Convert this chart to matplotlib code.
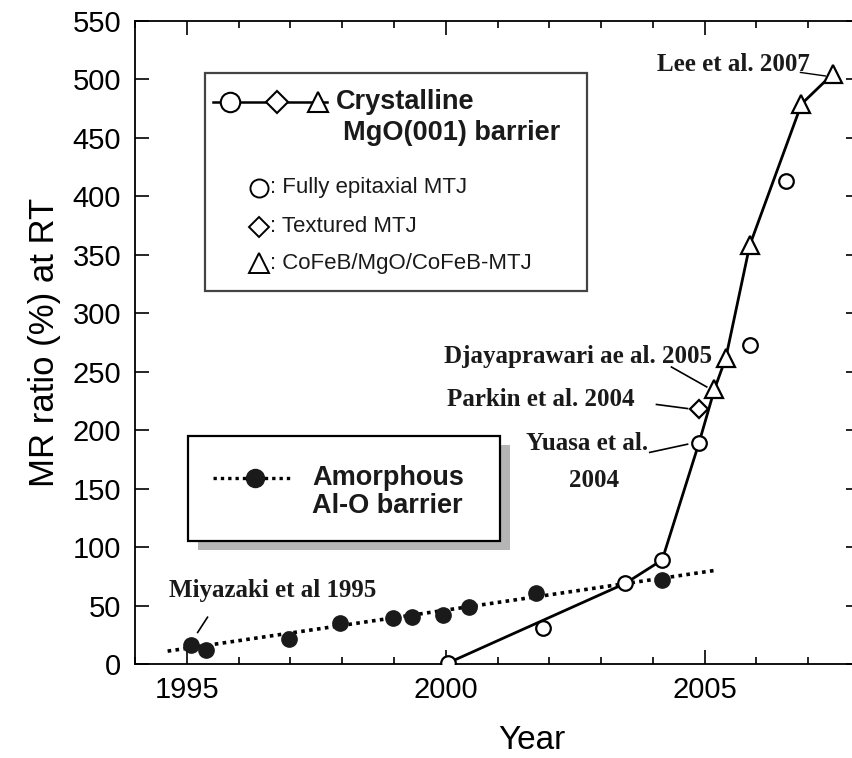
import matplotlib
matplotlib.use("Agg")
import matplotlib.pyplot as plt
from matplotlib.patches import Rectangle
from matplotlib.lines import Line2D
from matplotlib.ticker import MultipleLocator, FixedLocator

# ---------------- data ----------------
# Amorphous Al-O barrier (filled circles)
alo_year = [1995.08, 1995.38, 1996.97, 1997.96, 1998.98, 1999.35, 1999.94, 2000.45, 2001.75, 2004.18]
alo_mr = [16, 12, 21, 35, 39, 40, 42, 49, 61, 72]
# dotted trend line for Al-O
alo_trend_year = [1994.63, 2005.19]
alo_trend_mr = [11, 80]

# Crystalline MgO(001): fully epitaxial MTJ (open circles)
epi_year = [2000.05, 2001.88, 2003.47, 2004.18, 2004.89, 2005.87, 2006.57]
epi_mr = [1, 31, 69, 89, 189, 273, 413]
# textured MTJ (open diamond)
tex_year = [2004.89]
tex_mr = [218]
# CoFeB/MgO/CoFeB MTJ (open triangles)
cfb_year = [2005.19, 2005.41, 2005.87, 2006.87, 2007.48]
cfb_mr = [235, 262, 358, 479, 505]
# solid guide line through the MgO records
mgo_line_year = [2000.05, 2003.47, 2004.18, 2004.89, 2005.19, 2005.41, 2005.87, 2006.87, 2007.48]
mgo_line_mr = [1, 69, 89, 189, 235, 262, 358, 479, 505]

x_major = [1995, 2000, 2005]
y_ticks = list(range(0, 551, 50))

W, H = 852, 758
fig = plt.figure(figsize=(W / 100, H / 100), dpi=100)
ax = fig.add_axes([135 / W, 1 - 664 / H, (860 - 135) / W, (664 - 21) / H])

ax.set_xlim(1994, 2008)
ax.set_ylim(0, 550)

ax.plot(alo_trend_year, alo_trend_mr, color="black", lw=2.6, ls=(0, (1, 1.2)), zorder=2)
ax.plot(alo_year, alo_mr, "o", color="black", ms=11, mfc="#1a1a1a", mec="#1a1a1a", zorder=3)

ax.plot(mgo_line_year, mgo_line_mr, "-", color="black", lw=2.0, zorder=2)
ax.plot(epi_year, epi_mr, "o", ms=10.5, mfc="white", mec="black", mew=1.6, zorder=4)
ax.plot(tex_year, tex_mr, "D", ms=9.5, mfc="white", mec="black", mew=1.6, zorder=4)
ax.plot(cfb_year, cfb_mr, "^", ms=13, mfc="white", mec="black", mew=1.6, zorder=4)

# ticks
ax.xaxis.set_major_locator(FixedLocator(x_major))
ax.xaxis.set_minor_locator(MultipleLocator(1))
ax.yaxis.set_major_locator(FixedLocator(y_ticks))
ax.tick_params(which="both", direction="in", top=True, right=True, width=1.2)
ax.tick_params(which="major", length=10)
ax.tick_params(which="minor", length=5)
ax.tick_params(axis="x", which="major", labelsize=21, pad=9)
ax.tick_params(axis="y", which="major", labelsize=21, pad=10)
for lab in ax.get_xticklabels() + ax.get_yticklabels():
    lab.set_fontfamily("Liberation Sans")
for s in ax.spines.values():
    s.set_linewidth(1.3)

ax.set_ylabel("MR ratio (%) at RT", fontsize=25, family="Liberation Sans", labelpad=8)
ax.set_xlabel("Year", fontsize=24, family="Liberation Sans")
ax.xaxis.set_label_coords((532 - 135) / (860 - 135), -0.095)

# ---------------- annotations ----------------
serif = dict(family="Liberation Serif", fontweight="bold", fontsize=18, color="#1a1a1a")
ax.text(1996.65, 63, "Miyazaki et al 1995", ha="center", va="center", **serif)
ax.plot([1995.40, 1995.21], [40, 27], color="black", lw=1.2)
ax.text(2005.56, 513, "Lee et al. 2007", ha="center", va="center", **serif)
ax.plot([2006.85, 2007.33], [506, 503], color="black", lw=1.0)
ax.text(2002.55, 263, "Djayaprawari ae al. 2005", ha="center", va="center", **serif)
ax.plot([2004.36, 2005.04], [254, 237], color="black", lw=1.2)
ax.text(2001.84, 226, "Parkin et al. 2004", ha="center", va="center", **serif)
ax.plot([2004.07, 2004.67], [222, 218.5], color="black", lw=1.2)
ax.text(2002.73, 189, "Yuasa et al.", ha="center", va="center", **serif)
ax.text(2002.87, 157, "2004", ha="center", va="center", **serif)
ax.plot([2003.94, 2004.67], [181, 188], color="black", lw=1.2)

# ---------------- legend boxes (figure pixel coords) ----------------
def fx(px):
    return px / W

def fy(py):
    return 1 - py / H

T = fig.transFigure

# crystalline box
fig.add_artist(Rectangle((fx(205), fy(291)), fx(587) - fx(205), fy(73) - fy(291),
                         transform=T, fill=True, facecolor="white", edgecolor="#444444", lw=1.6, zorder=5))
fig.add_artist(Line2D([fx(213), fx(327)], [fy(102), fy(102)], transform=T, color="black", lw=1.8, zorder=6))
for mx, mk, ms in [(230, "o", 14), (277, "D", 11), (318, "^", 14)]:
    fig.add_artist(Line2D([fx(mx)], [fy(102)], transform=T, marker=mk, ms=ms, mfc="white",
                          mec="black", mew=1.5, ls="none", zorder=7))
sansb = dict(family="Liberation Sans", fontweight="bold", fontsize=19.5, color="#1a1a1a", zorder=8)
fig.text(fx(336), fy(102), "Crystalline", ha="left", va="center", **sansb)
fig.text(fx(343), fy(133), "MgO(001) barrier", ha="left", va="center", **sansb)
sans = dict(family="Liberation Sans", fontsize=16, color="#1a1a1a", zorder=8)
for py, mk, ms, label in [(188, "o", 13, ": Fully epitaxial MTJ"),
                          (227, "D", 10, ": Textured MTJ"),
                          (263, "^", 14, ": CoFeB/MgO/CoFeB-MTJ")]:
    fig.add_artist(Line2D([fx(259)], [fy(py)], transform=T, marker=mk, ms=ms, mfc="white",
                          mec="black", mew=1.4, ls="none", zorder=7))
    fig.text(fx(270), fy(py), label, ha="left", va="center", **sans)

# amorphous box with shadow
fig.add_artist(Rectangle((fx(198), fy(550)), fx(510) - fx(198), fy(445) - fy(550),
                         transform=T, facecolor="#b5b5b5", edgecolor="none", hatch="....", zorder=5))
fig.add_artist(Rectangle((fx(188), fy(541)), fx(500) - fx(188), fy(436) - fy(541),
                         transform=T, facecolor="white", edgecolor="black", lw=1.6, zorder=6))
fig.add_artist(Line2D([fx(213), fx(293)], [fy(478), fy(478)], transform=T, color="black",
                      lw=2.4, ls=(0, (1, 1.2)), zorder=7))
fig.add_artist(Line2D([fx(255)], [fy(478)], transform=T, marker="o", ms=13, mfc="#1a1a1a",
                      mec="#1a1a1a", ls="none", zorder=8))
fig.text(fx(312), fy(478), "Amorphous", ha="left", va="center", **sansb)
fig.text(fx(312), fy(506), "Al-O barrier", ha="left", va="center", **sansb)

fig.savefig("out.png", dpi=100)
